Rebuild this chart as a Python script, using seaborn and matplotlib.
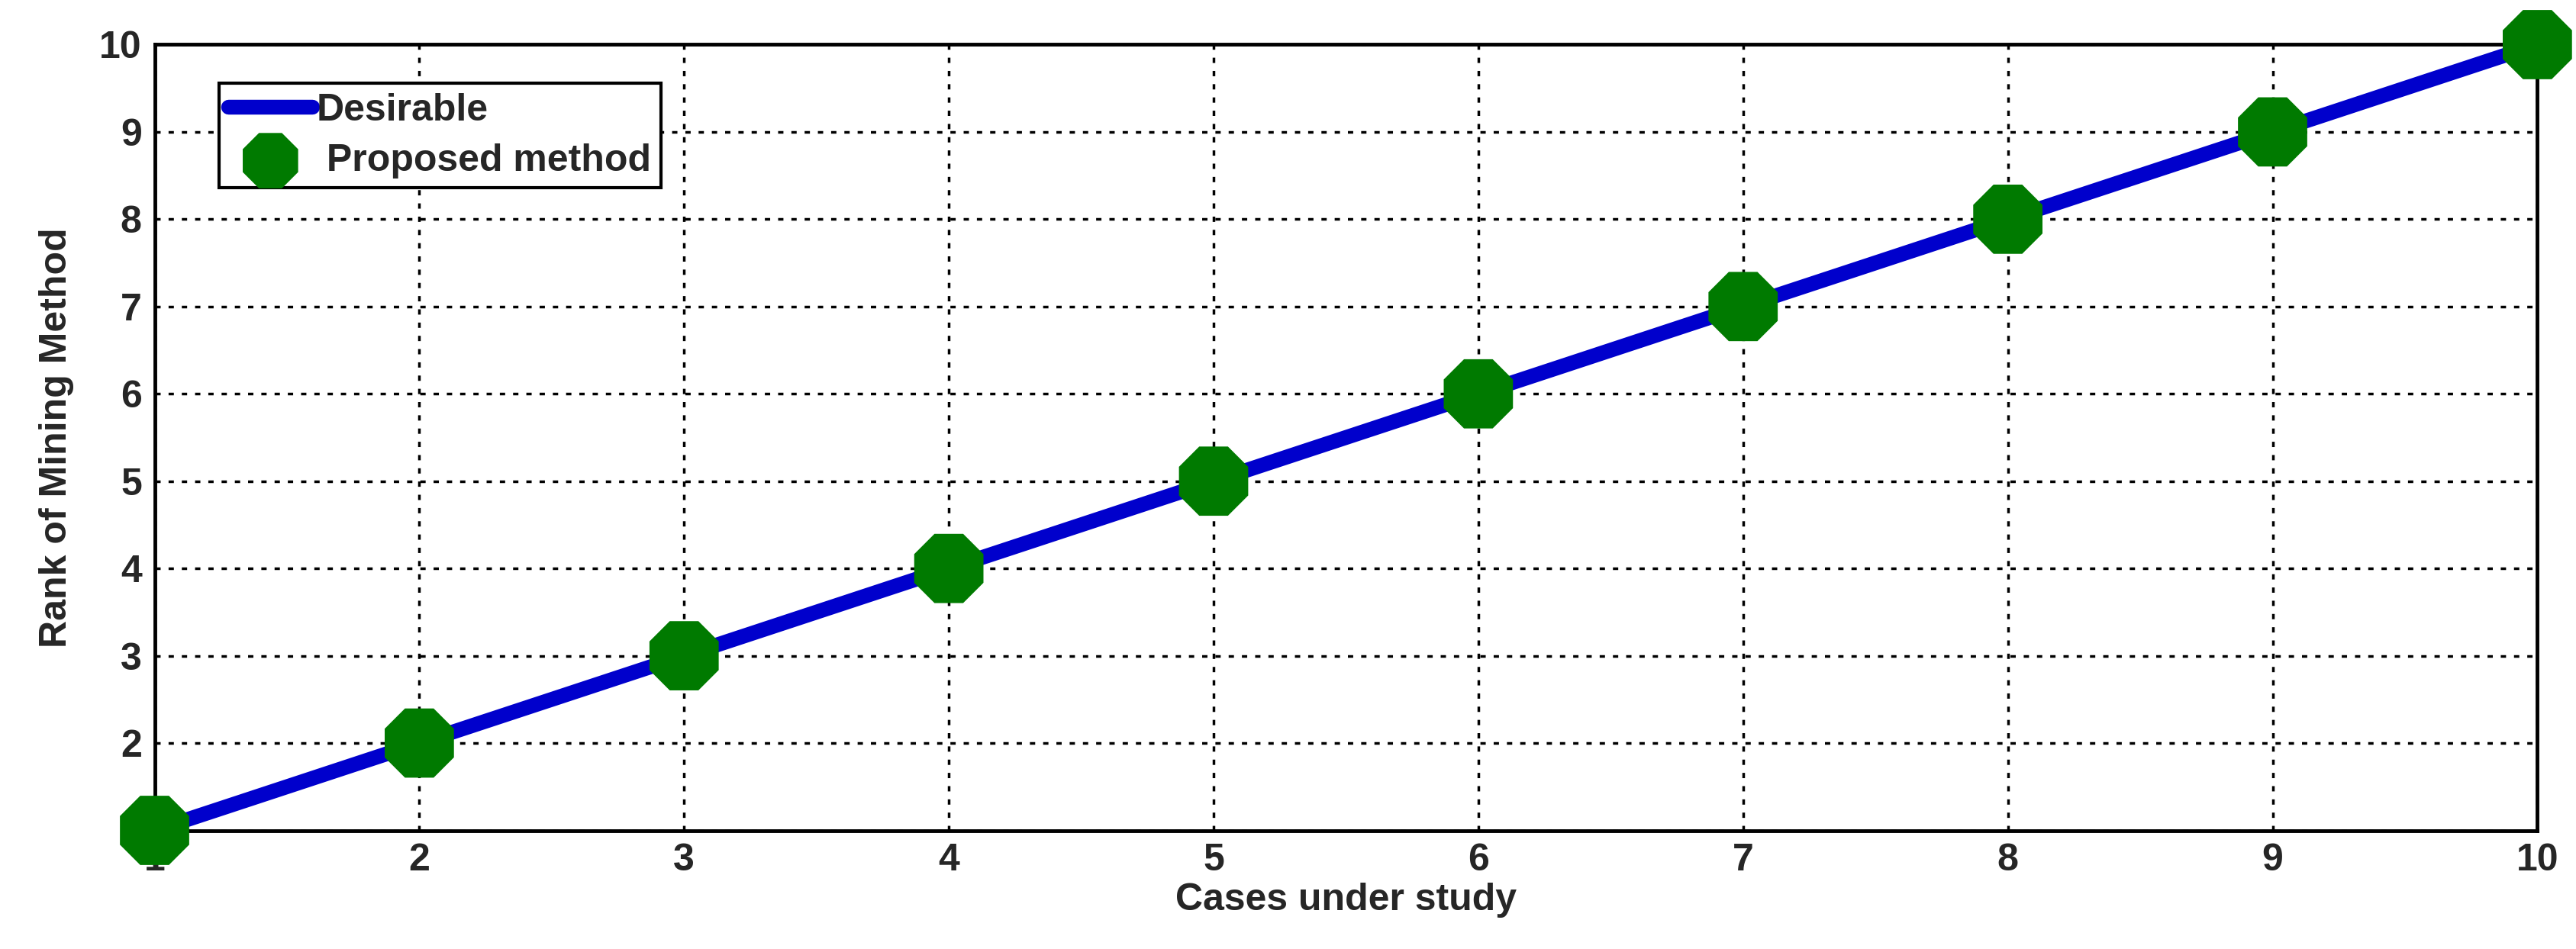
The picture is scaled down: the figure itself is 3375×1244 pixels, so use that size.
import matplotlib
matplotlib.use("Agg")
import matplotlib.pyplot as plt
import seaborn as sns
import pandas as pd

cases = [1, 2, 3, 4, 5, 6, 7, 8, 9, 10]
desirable = [1, 2, 3, 4, 5, 6, 7, 8, 9, 10]
proposed = [1, 2, 3, 4, 5, 6, 7, 8, 9, 10]

sns.set_style("white")
plt.rcParams['font.family'] = ['Liberation Sans', 'DejaVu Sans']
plt.rcParams['font.weight'] = 'bold'

df = pd.DataFrame({"case": cases, "desirable": desirable, "proposed": proposed})

fig = plt.figure(figsize=(33.75, 12.44), dpi=100)
ax = fig.add_axes([0.060, 0.125, 0.925, 0.828])

sns.lineplot(data=df, x="case", y="desirable", ax=ax, color="#0000CC", linewidth=14,
             label="Desirable", zorder=3, clip_on=False)
sns.scatterplot(data=df, x="case", y="proposed", ax=ax, color="#007A00", marker="8",
                s=5000, edgecolor="none", label=" Proposed method", zorder=4, clip_on=False)

ax.set_xlim(1, 10)
ax.set_ylim(1, 10)
ax.set_xticks(cases)
ax.set_yticks(range(1, 11))
ax.tick_params(labelsize=36, width=3, length=14, direction="in", pad=12)
for l in ax.get_xticklabels() + ax.get_yticklabels():
    l.set_fontweight("bold")
ax.grid(True, linestyle=(0, (2, 3)), color="black", linewidth=2.5)
for s in ax.spines.values():
    s.set_linewidth(3.5)
    s.set_color("black")
ax.set_xlabel("Cases under study", fontsize=36, fontweight="bold", labelpad=4)
ax.set_ylabel("Rank of Mining Method", fontsize=36, fontweight="bold", labelpad=24)

leg = ax.legend(loc="upper left", bbox_to_anchor=(0.019, 0.975), fontsize=36,
                frameon=True, fancybox=False, edgecolor="black", framealpha=1,
                handlelength=2.2, handletextpad=0.1, borderpad=0.25, labelspacing=0.4,
                markerscale=0.8)
leg.get_frame().set_linewidth(3)
for t in leg.get_texts():
    t.set_fontweight("bold")

fig.savefig("out.png", dpi=100)
